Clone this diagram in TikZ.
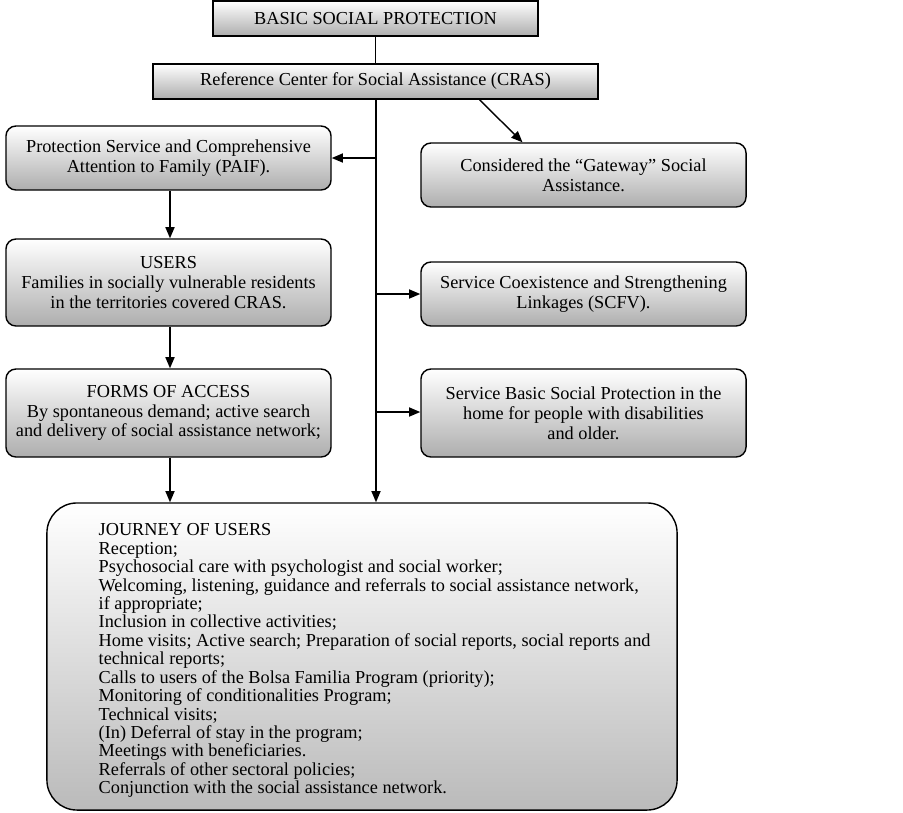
\documentclass[tikz,border=0pt]{standalone}
\usepackage{fontspec}
\setmainfont{Liberation Serif}
\usetikzlibrary{arrows.meta,calc}
\newcommand{\chartfont}{\fontsize{13}{14.1}\selectfont\lineskiplimit=-20pt\relax}
\newcommand{\listfont}{\fontsize{13}{13.1}\selectfont\lineskiplimit=-20pt\lineskip=0pt\relax}

\begin{document}
\begin{tikzpicture}[x=0.025cm, y=-0.025cm, line width=1pt,
    sqbox/.style={draw, top color=white, bottom color=black!32, align=center,
      minimum width=8.125cm, minimum height=0.875cm, inner sep=2pt},
    rbox/.style={sqbox, rounded corners=0.25cm, minimum height=1.6cm},
    flow/.style={-{Triangle[length=8pt,width=6.5pt]}}]
    \tikzstyle{every node}=[font=\chartfont]
      \useasboundingbox (0,0) rectangle (903,812);

      % top of the chart
      \node[sqbox] (bsp) at (375.5,18.5) {BASIC SOCIAL PROTECTION};
      \node[sqbox, minimum width=11.125cm] (cras) at (375.5,81.5)
        {Reference Center for Social Assistance (CRAS)};

      % left column
      \node[rbox] (paif) at (168.5,158)
        {Protection Service and Comprehensive\\Attention to Family (PAIF).};
      \node[rbox, minimum height=2.175cm] (users) at (168.5,282.5)
        {USERS\\Families in socially vulnerable residents\\in the territories covered CRAS.};
      \node[rbox, minimum height=2.2cm] (access) at (168.5,413)
        {FORMS OF ACCESS\\By spontaneous demand; active search\\and delivery of social assistance network;};

      % right column
      \node[rbox] (gate) at (583.5,175)
        {Considered the ``Gateway'' Social\\Assistance.};
      \node[rbox] (scfv) at (583.5,294)
        {Service Coexistence and Strengthening\\Linkages (SCFV).};
      \node[rbox, minimum height=2.2cm] (home) at (583.5,413)
        {Service Basic Social Protection in the\\home for people with disabilities\\and older.};

      % journey box
      \node[sqbox, rounded corners=0.75cm, minimum width=15.75cm,
            minimum height=7.675cm, bottom color=black!27] (journey) at (362,656.5) {};
      \node[anchor=north west, align=left, inner sep=0pt, font=\listfont] (steps) at (98,523)
        {JOURNEY OF USERS\\
         Reception;\\
         Psychosocial care with psychologist and social worker;\\
         Welcoming, listening, guidance and referrals to social assistance network,\\
         if appropriate;\\
         Inclusion in collective activities;\\
         Home visits; Active search; Preparation of social reports, social reports and\\
         technical reports;\\
         Calls to users of the Bolsa Familia Program (priority);\\
         Monitoring of conditionalities Program;\\
         Technical visits;\\
         (In) Deferral of stay in the program;\\
         Meetings with beneficiaries.\\
         Referrals of other sectoral policies;\\
         Conjunction with the social assistance network.};

      % trunk
      \coordinate (t1) at (376,158);
      \coordinate (t2) at (376,294);
      \coordinate (t3) at (376,412);
      \draw (bsp) -- (cras);
      \draw[flow] (cras.south -| t1) -- (journey.north -| t1);
      \draw[flow] (t1) -- (paif.east);
      \draw[flow] (t2) -- (scfv.west);
      \draw[flow] (t3) -- (home.west |- t3);
      \draw[flow] ($(cras.south)+(104,0)$) -- ($(gate.north)+(-61,0)$);

      % left arrows
      \draw[flow] (paif.south -| 170,0) -- (users.north -| 170,0);
      \draw[flow] (users.south -| 170,0) -- (access.north -| 170,0);
      \draw[flow] (access.south -| 170,0) -- (journey.north -| 170,0);
\end{tikzpicture}
\end{document}
